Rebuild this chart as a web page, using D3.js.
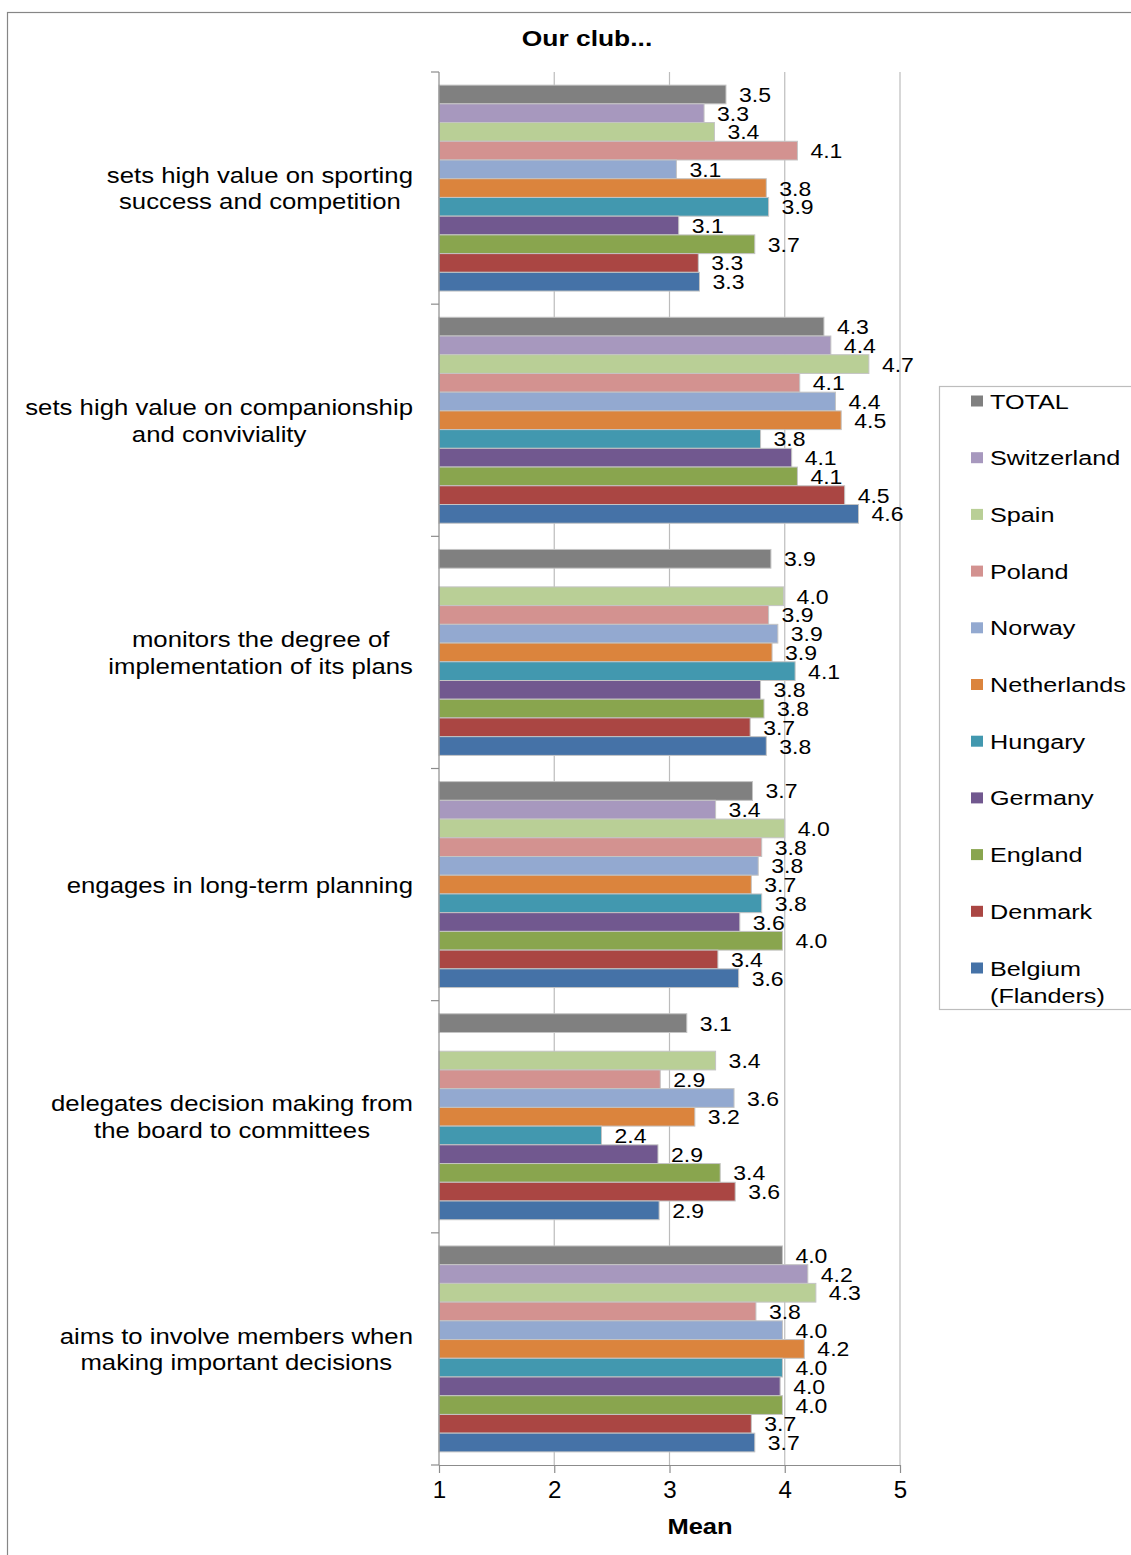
<!DOCTYPE html>
<html>
<head>
<meta charset="utf-8">
<script src="https://cdn.jsdelivr.net/npm/d3@7"></script>
<style>
  html, body { margin: 0; padding: 0; background: #fff; }
  svg { display: block; font-family: "Liberation Sans", Arial, sans-serif; }
</style>
</head>
<body>
<svg id="chart" width="1131" height="1555"></svg>
<script>
// ---------- DATA ----------
const title = "Our club...";
const xAxisTitle = "Mean";
const xTicks = [1, 2, 3, 4, 5];

const categoryLines = [
  ["sets high value on sporting", "success and competition"],
  ["sets high value on companionship", "and conviviality"],
  ["monitors the degree of", "implementation of its plans"],
  ["engages in long-term planning"],
  ["delegates decision making from", "the board to committees"],
  ["aims to involve members when", "making important decisions"]
];
const categories = categoryLines.map(l => l.join(" "));

const seriesNames = ["TOTAL", "Switzerland", "Spain", "Poland", "Norway", "Netherlands",
                     "Hungary", "Germany", "England", "Denmark", "Belgium (Flanders)"];
const seriesColors = ["#808080", "#A798BE", "#B9CF96", "#D39290", "#93A9D0", "#DB843D",
                      "#4298AF", "#71588F", "#89A54E", "#AA4643", "#4572A7"];

// values per series, one per category (null = no bar)
const total       = [3.49, 4.34, 3.88, 3.72, 3.15, 3.98];
const switzerland = [3.30, 4.40, null, 3.40, null, 4.20];
const spain       = [3.39, 4.73, 3.99, 4.00, 3.40, 4.27];
const poland      = [4.11, 4.13, 3.86, 3.80, 2.92, 3.75];
const norway      = [3.06, 4.44, 3.94, 3.77, 3.56, 3.98];
const netherlands = [3.84, 4.49, 3.89, 3.71, 3.22, 4.17];
const hungary     = [3.86, 3.79, 4.09, 3.80, 2.41, 3.98];
const germany     = [3.08, 4.06, 3.79, 3.61, 2.90, 3.96];
const england     = [3.74, 4.11, 3.82, 3.98, 3.44, 3.98];
const denmark     = [3.25, 4.52, 3.70, 3.42, 3.57, 3.71];
const belgium     = [3.26, 4.64, 3.84, 3.60, 2.91, 3.74];

const seriesValues = [total, switzerland, spain, poland, norway, netherlands,
                      hungary, germany, england, denmark, belgium];

// ---------- BUILD ----------
const svg = d3.select("#chart");

// outer border
svg.append("rect")
  .attr("x", 7.5).attr("y", 12.5).attr("width", 1300).attr("height", 1700)
  .attr("fill", "none").attr("stroke", "#868686").attr("stroke-width", 1.2);

const plotTop = 72, plotBottom = 1465, plotLeft = 439, plotRight = 900;

const x = d3.scaleLinear().domain([1, 5]).range([plotLeft, plotRight]);
const yCat = d3.scaleBand().domain(categories).range([plotTop, plotBottom]);
const ySer = d3.scaleBand().domain(seriesNames).range([0, yCat.bandwidth()])
  .paddingInner(0).paddingOuter(0.7);
const color = d3.scaleOrdinal().domain(seriesNames).range(seriesColors);

function stretched(sel, sx) {
  return sel.each(function() {
    const t = d3.select(this);
    const px = +t.attr("data-x"), py = +t.attr("data-y");
    t.attr("transform", `translate(${px},${py}) scale(${sx},1)`);
  });
}

// gridlines
svg.append("g").selectAll("line")
  .data(xTicks.filter(d => d > 1))
  .join("line")
  .attr("x1", d => x(d)).attr("x2", d => x(d))
  .attr("y1", plotTop).attr("y2", plotBottom)
  .attr("stroke", "#bcbcbc").attr("stroke-width", 1.2);

// title
svg.append("text").text(title)
  .attr("data-x", 587).attr("data-y", 46)
  .attr("text-anchor", "middle").attr("font-weight", "bold").attr("font-size", 22)
  .attr("fill", "#000")
  .call(stretched, 1.2);

// bars
const rows = [];
categories.forEach((c, ci) => {
  seriesNames.forEach((s, si) => {
    const v = seriesValues[si][ci];
    if (v != null) rows.push({cat: c, series: s, value: v});
  });
});

const barG = svg.append("g");
barG.selectAll("rect")
  .data(rows)
  .join("rect")
  .attr("x", x(1))
  .attr("y", d => yCat(d.cat) + ySer(d.series))
  .attr("width", d => x(d.value) - x(1))
  .attr("height", ySer.bandwidth())
  .attr("fill", d => color(d.series))
  .attr("stroke", "#c4c4c4").attr("stroke-width", 1);

// data labels
barG.selectAll("text")
  .data(rows)
  .join("text")
  .text(d => d.value.toFixed(1))
  .attr("data-x", d => x(d.value) + 13)
  .attr("data-y", d => yCat(d.cat) + ySer(d.series) + ySer.bandwidth() / 2 + 7.5)
  .attr("font-size", 19.5).attr("fill", "#000")
  .call(stretched, 1.18);

// left axis line + boundary ticks
const leftAxis = svg.append("g");
leftAxis.append("line")
  .attr("x1", plotLeft).attr("x2", plotLeft).attr("y1", plotTop).attr("y2", plotBottom)
  .attr("stroke", "#8c8c8c").attr("stroke-width", 1.2);
const boundaries = categories.map(c => yCat(c)).concat([yCat.range()[1]]);
leftAxis.selectAll("line.tick")
  .data(boundaries)
  .join("line").attr("class", "tick")
  .attr("x1", plotLeft - 8).attr("x2", plotLeft)
  .attr("y1", d => d).attr("y2", d => d)
  .attr("stroke", "#8c8c8c").attr("stroke-width", 1.2);

// category labels
const catSx = 1.17, catFont = 22, lineH = 26.7, labelRight = 413;
categories.forEach((c, ci) => {
  const lines = categoryLines[ci];
  const g = svg.append("g");
  const cy = yCat(c) + yCat.bandwidth() / 2;
  const texts = g.selectAll("text").data(lines).join("text")
    .text(d => d)
    .attr("font-size", catFont).attr("fill", "#000")
    .attr("text-anchor", "middle");
  let maxW = 0;
  texts.each(function() { maxW = Math.max(maxW, this.getComputedTextLength() * catSx); });
  const cx = labelRight - maxW / 2;
  texts
    .attr("data-x", cx)
    .attr("data-y", (d, i) => cy + (i - (lines.length - 1) / 2) * lineH + 8)
    .call(stretched, catSx);
});

// bottom axis
const xAxis = d3.axisBottom(x).tickValues(xTicks).tickFormat(d3.format("d"))
  .tickSize(8).tickSizeOuter(0).tickPadding(9);
const xg = svg.append("g").attr("transform", `translate(0,${plotBottom})`).call(xAxis);
xg.select(".domain").attr("stroke", "#8c8c8c").attr("stroke-width", 1.2);
xg.selectAll(".tick line").attr("stroke", "#8c8c8c").attr("stroke-width", 1.2);
xg.selectAll(".tick text")
  .attr("font-size", 23).attr("fill", "#000")
  .attr("font-family", "Liberation Sans, Arial, sans-serif")
  .attr("transform", "scale(1.05,1)");

// x axis title
svg.append("text").text(xAxisTitle)
  .attr("data-x", 700).attr("data-y", 1534)
  .attr("text-anchor", "middle").attr("font-weight", "bold").attr("font-size", 22)
  .attr("fill", "#000")
  .call(stretched, 1.16);

// legend
const legend = svg.append("g");
legend.append("rect")
  .attr("x", 939.5).attr("y", 386.5).attr("width", 300).attr("height", 623)
  .attr("fill", "#fff").attr("stroke", "#bdbdbd").attr("stroke-width", 1.2);
const ly = d3.scaleLinear().domain([0, seriesNames.length - 1]).range([401, 968]);
const items = legend.selectAll("g.item").data(seriesNames).join("g").attr("class", "item");
items.append("rect")
  .attr("x", 971).attr("y", (d, i) => ly(i) - 5.5)
  .attr("width", 12).attr("height", 11)
  .attr("fill", d => color(d));
items.each(function(d, i) {
  const parts = d === "Belgium (Flanders)" ? ["Belgium", "(Flanders)"] : [d];
  d3.select(this).selectAll("text").data(parts).join("text")
    .text(p => p)
    .attr("data-x", 990)
    .attr("data-y", (p, j) => ly(i) + 7.5 + j * 27)
    .attr("font-size", 21).attr("fill", "#000")
    .call(stretched, 1.2);
});
</script>
</body>
</html>
